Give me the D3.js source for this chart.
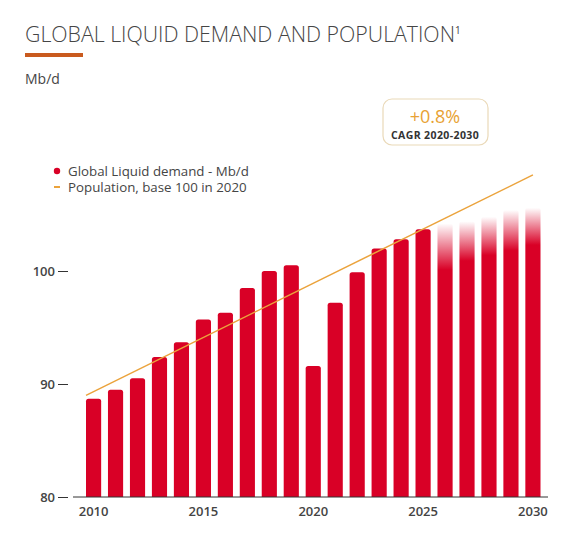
<!DOCTYPE html>
<html>
<head>
<meta charset="utf-8">
<script src="https://cdn.jsdelivr.net/npm/d3@7"></script>
<style>
  body { margin: 0; background: #fff; }
  svg { font-family: "Open Sans", sans-serif; }
</style>
</head>
<body>
<div id="chart"></div>
<script>
// years on the x axis
var years = d3.range(2010, 2031);
// global liquid demand, Mb/d (top of each bar)
var demand = [88.7, 89.5, 90.5, 92.4, 93.7, 95.7, 96.3, 98.5, 100.0, 100.5,
  91.6, 97.2, 99.9, 102.0, 102.8, 103.7, 104.2, 104.4, 104.8, 105.4, 105.6];
// forecast years: level where the faded top starts
var forecastSolid = { 2026: 100.1, 2027: 100.9, 2028: 101.4, 2029: 101.8, 2030: 102.3 };
// population, base 100 in 2020 (straight line, read at its two ends)
var popYears = [2010, 2030];
var population = [89.0, 108.5];
var yTicks = [80, 90, 100];
var xTicks = [2010, 2015, 2020, 2025, 2030];

var width = 574, height = 540;

var svg = d3.select("#chart").append("svg")
  .attr("width", width)
  .attr("height", height);

var x = d3.scaleBand()
  .domain(years)
  .range([86, 540.5])
  .paddingInner(0.31)
  .paddingOuter(0);

var y = d3.scaleLinear()
  .domain([80, 100])
  .range([497, 271]);

// title
var title = svg.append("text")
  .attr("x", 25).attr("y", 42)
  .attr("fill", "#454545")
  .style("font-size", "21.3px")
  .style("font-weight", 300)
  .text("GLOBAL LIQUID DEMAND AND POPULATION");
title.append("tspan")
  .attr("dy", -8)
  .style("font-size", "10px")
  .style("font-weight", 400)
  .text("1");

svg.append("rect")
  .attr("x", 25).attr("y", 53)
  .attr("width", 58).attr("height", 4)
  .attr("fill", "#c95a1e");

svg.append("text")
  .attr("x", 25).attr("y", 84)
  .attr("fill", "#454545")
  .style("font-size", "14px")
  .text("Mb/d");

// CAGR box
svg.append("rect")
  .attr("x", 383).attr("y", 99)
  .attr("width", 105).attr("height", 46)
  .attr("rx", 9)
  .attr("fill", "#fff")
  .attr("stroke", "#ead9b8")
  .attr("stroke-width", 1.2);
svg.append("text")
  .attr("x", 435).attr("y", 123)
  .attr("text-anchor", "middle")
  .attr("fill", "#e8a234")
  .style("font-size", "18px")
  .text("+0.8%");
svg.append("text")
  .attr("x", 435).attr("y", 138.5)
  .attr("text-anchor", "middle")
  .attr("fill", "#333")
  .style("font-size", "10.5px")
  .style("font-weight", 700)
  .style("letter-spacing", "0.4px")
  .text("CAGR 2020-2030");

// legend
svg.append("circle")
  .attr("cx", 57).attr("cy", 171).attr("r", 3.2)
  .attr("fill", "#d90026");
svg.append("text")
  .attr("x", 68).attr("y", 175.5)
  .attr("fill", "#454545")
  .style("font-size", "13.3px")
  .text("Global Liquid demand - Mb/d");
svg.append("line")
  .attr("x1", 54).attr("x2", 60)
  .attr("y1", 187).attr("y2", 187)
  .attr("stroke", "#eba33c")
  .attr("stroke-width", 2);
svg.append("text")
  .attr("x", 68).attr("y", 191.5)
  .attr("fill", "#454545")
  .style("font-size", "13.3px")
  .text("Population, base 100 in 2020");

// fade gradients for forecast bars
var defs = svg.append("defs");
years.forEach(function (yr, i) {
  if (forecastSolid[yr] == null) return;
  var g = defs.append("linearGradient")
    .attr("id", "fade" + yr)
    .attr("gradientUnits", "userSpaceOnUse")
    .attr("x1", 0).attr("x2", 0)
    .attr("y1", y(demand[i])).attr("y2", y(forecastSolid[yr]));
  g.append("stop").attr("offset", 0).attr("stop-color", "#d90026").attr("stop-opacity", 0);
  g.append("stop").attr("offset", 1).attr("stop-color", "#d90026").attr("stop-opacity", 1);
});

// bars with rounded tops
function barPath(d, i) {
  var x0 = x(d), w = x.bandwidth(), y0 = y(demand[i]), y1 = y(80), r = 2.5;
  return "M" + x0 + "," + y1 +
    "V" + (y0 + r) +
    "Q" + x0 + "," + y0 + " " + (x0 + r) + "," + y0 +
    "H" + (x0 + w - r) +
    "Q" + (x0 + w) + "," + y0 + " " + (x0 + w) + "," + (y0 + r) +
    "V" + y1 + "Z";
}

svg.append("g")
  .selectAll("path")
  .data(years)
  .enter()
  .append("path")
  .attr("d", barPath)
  .attr("fill", function (d) {
    return forecastSolid[d] == null ? "#d90026" : "url(#fade" + d + ")";
  });

// population line: runs from left edge of first bar to centre of last
var xPop = d3.scaleLinear()
  .domain(d3.extent(popYears))
  .range([x(2010), x(2030) + x.bandwidth() / 2]);

var line = d3.line()
  .x(function (d, i) { return xPop(popYears[i]); })
  .y(function (d) { return y(d); });

svg.append("path")
  .datum(population)
  .attr("d", line)
  .attr("fill", "none")
  .attr("stroke", "#eba33c")
  .attr("stroke-width", 1.5);

// y axis: ticks only, no domain line
var yAxis = svg.append("g")
  .attr("transform", "translate(68,0)")
  .call(d3.axisLeft(y).tickValues(yTicks).tickSize(10).tickPadding(3));
yAxis.select(".domain").remove();
yAxis.selectAll("line").attr("stroke", "#333");
yAxis.selectAll("text")
  .attr("fill", "#444")
  .style("font-size", "13px")
  .style("font-weight", 600)
  .style("font-family", "'Open Sans', sans-serif");

// baseline
svg.append("line")
  .attr("x1", 73).attr("x2", 548)
  .attr("y1", y(80)).attr("y2", y(80))
  .attr("stroke", "#333")
  .attr("stroke-width", 1);

// x tick labels
svg.append("g")
  .selectAll("text")
  .data(xTicks)
  .enter()
  .append("text")
  .attr("x", function (d) { return x(d) + x.bandwidth() / 2; })
  .attr("y", 516)
  .attr("text-anchor", "middle")
  .attr("fill", "#444")
  .style("font-size", "13px")
  .style("font-weight", 600)
  .text(function (d) { return d; });
</script>
</body>
</html>
